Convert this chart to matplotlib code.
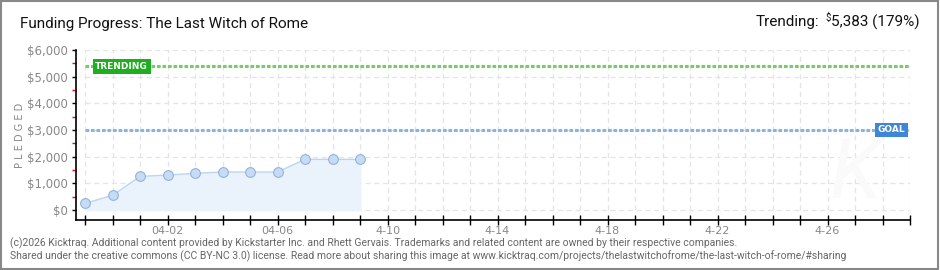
import numpy as np
import pandas as pd
import matplotlib
matplotlib.use('Agg')
import matplotlib.pyplot as plt
from matplotlib.patches import Rectangle

plt.rcParams['font.family'] = ['Roboto', 'DejaVu Sans']

# 数据
dates = ['2026-03-30', '2026-03-31', '2026-04-01', '2026-04-02', '2026-04-03', '2026-04-04',
         '2026-04-05', '2026-04-06', '2026-04-07', '2026-04-08', '2026-04-09']
pledged = [250, 550, 1260, 1310, 1375, 1425, 1425, 1425, 1900, 1900, 1900]
goal = 3000
trending = 5383
y_ticks = [0, 1000, 2000, 3000, 4000, 5000, 6000]
y_tick_labels = ['$0', '$1,000', '$2,000', '$3,000', '$4,000', '$5,000', '$6,000']
x_label_dates = ['2026-04-02', '2026-04-06', '2026-04-10', '2026-04-14', '2026-04-18', '2026-04-22', '2026-04-26']
x_label_texts = ['04-02', '04-06', '4-10', '4-14', '4-18', '4-22', '4-26']

x = pd.to_datetime(dates)
all_days = pd.date_range('2026-03-30', '2026-04-29', freq='D')

fig = plt.figure(figsize=(9.4, 2.7), dpi=100)
ax = fig.add_axes([76 / 940, 1 - 220 / 270, (910 - 76) / 940, 170 / 270])

# 网格
ax.vlines(all_days, 0, 6000, colors='#e4e4e4', linestyles=(0, (4, 3)), lw=0.9, zorder=0)
ax.hlines(y_ticks, all_days[0], all_days[-1], colors='#e4e4e4', linestyles=(0, (4, 3)), lw=0.9, zorder=0)

# 水印
ax.text(all_days[-3], 1300, 'K', fontsize=60, color='#fafafa', style='italic',
        ha='center', va='center', zorder=0)

# 曲线和填充
ax.fill_between(x, pledged, 0, color='#eaf2fc', zorder=1)
ax.plot(x, pledged, color='#bcd6f2', lw=1, zorder=2)
ax.plot(x, pledged, 'o', ms=7, mfc='#c6dcf6', mec='#94b2d6', mew=0.8, zorder=3)

# 目标线 和 趋势线
ax.plot([all_days[0], all_days[-1]], [trending, trending], color='#77cc66', lw=2.2,
        linestyle=(0, (1.2, 0.6)), zorder=2)
ax.plot([all_days[0], all_days[-1]], [goal, goal], color='#8cb2de', lw=2.2,
        linestyle=(0, (1.2, 0.6)), zorder=2)
ax.text(all_days[0] + pd.Timedelta(hours=9), trending, 'TRENDING', color='white', fontsize=6.5,
        fontweight='bold', ha='left', va='center', family='DejaVu Sans', zorder=4,
        bbox=dict(boxstyle='square,pad=0.3', fc='#1fae1f', ec='none'))
ax.text(all_days[-1] - pd.Timedelta(hours=4), goal, 'GOAL', color='white', fontsize=6.5,
        fontweight='bold', ha='right', va='center', family='DejaVu Sans', zorder=4,
        bbox=dict(boxstyle='square,pad=0.3', fc='#3d86d8', ec='none'))

ax.set_xlim(all_days[0] - pd.Timedelta(hours=7.9), all_days[-1])
ax.set_ylim(-375, 6000)

# 坐标轴
for s in ['top', 'right']:
    ax.spines[s].set_visible(False)
ax.spines['left'].set_linewidth(1.2)
ax.spines['bottom'].set_linewidth(1.2)

ax.set_yticks(y_ticks)
ax.set_yticklabels(y_tick_labels, family='DejaVu Sans')
ax.set_yticks([500, 1500, 2500, 3500, 4500, 5500], minor=True)
ax.tick_params(axis='y', which='major', length=3, width=1, color='black', labelsize=8.5,
               labelcolor='#888888', pad=3)
ax.tick_params(axis='y', which='minor', length=3, width=1, color='red')

ax.set_xticks(all_days)
labels = [x_label_texts[x_label_dates.index(d.strftime('%Y-%m-%d'))]
          if d.strftime('%Y-%m-%d') in x_label_dates else '' for d in all_days]
ax.set_xticklabels(labels, family='DejaVu Sans')
ax.tick_params(axis='x', direction='inout', length=7, width=1, color='black', labelsize=8,
               labelcolor='#888888', pad=1)

ax.set_ylabel('P L E D G E D', fontsize=7, color='#888888', labelpad=1, family='DejaVu Sans')

# 标题
fig.text(20 / 940, 1 - 24 / 270, 'Funding Progress: The Last Witch of Rome', fontsize=11,
         color='#111111', ha='left', va='center')

# 右上角趋势文字
t3 = fig.text(920 / 940, 1 - 22 / 270, '5,383 (179%)', fontsize=11, color='#111111',
              ha='right', va='center')
fig.canvas.draw()
r = fig.canvas.get_renderer()
bb = t3.get_window_extent(r)
t2 = fig.text(bb.x0 / 940 - 0.001, 1 - 18 / 270, '$', fontsize=7, color='#111111',
              ha='right', va='center')
bb2 = t2.get_window_extent(r)
fig.text(bb2.x0 / 940 - 0.006, 1 - 22 / 270, 'Trending:', fontsize=11, color='#111111',
         ha='right', va='center')

# 页脚
fig.text(10 / 940, 1 - 243 / 270,
         '(c)2026 Kicktraq. Additional content provided by Kickstarter Inc. and Rhett Gervais. '
         'Trademarks and related content are owned by their respective companies.',
         fontsize=7.5, color='#666666', ha='left', va='center')
fig.text(10 / 940, 1 - 256 / 270,
         'Shared under the creative commons (CC BY-NC 3.0) license. Read more about sharing this image at '
         'www.kicktraq.com/projects/thelastwitchofrome/the-last-witch-of-rome/#sharing',
         fontsize=7.5, color='#666666', ha='left', va='center')

# 边框
fig.patches.append(Rectangle((0.001, 0.002), 0.997, 0.995, transform=fig.transFigure,
                             fill=False, ec='#888888', lw=1.5))

fig.savefig('out.png', dpi=100)
